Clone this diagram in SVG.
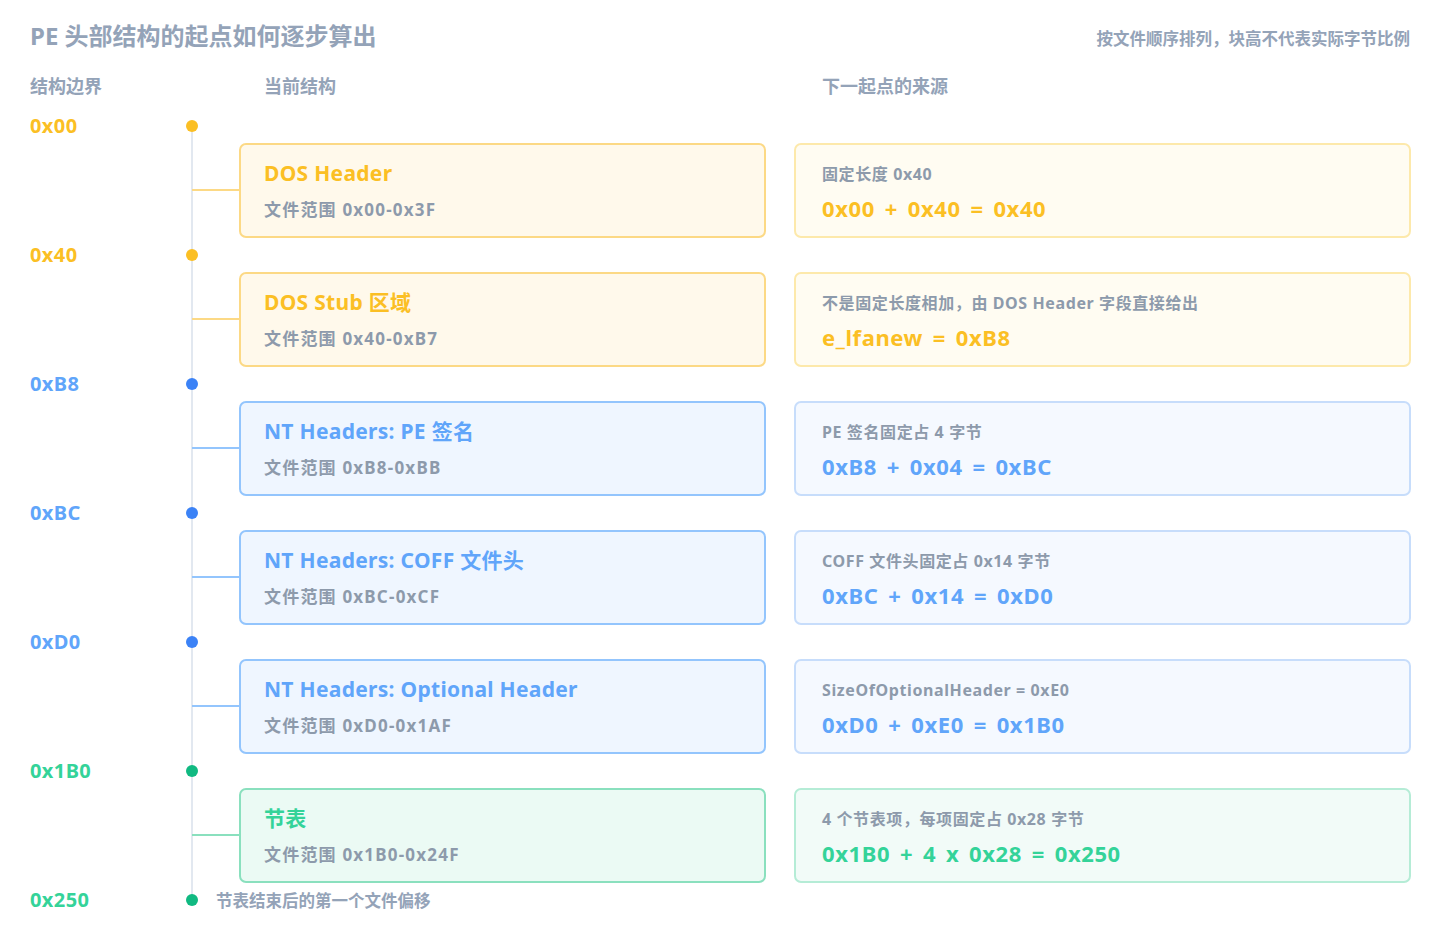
<svg xmlns="http://www.w3.org/2000/svg" width="1440" height="948" viewBox="0 0 1440 948">
<style>
text{font-family:"Noto Sans","Noto Sans CJK SC",sans-serif;font-weight:700}
.muted{fill:#94a3b8}
.title{font-size:24px}
.sub{font-size:16.5px}
.hdr{font-size:18px}
.off{font-size:20px;letter-spacing:0.4px}
.ct{font-size:21px;letter-spacing:0.3px}
.cr{font-size:17px;fill:#8d9aab;letter-spacing:1.2px}
.rs{font-size:16px;fill:#8d9aab;letter-spacing:0.6px}
.rf{font-size:22px;letter-spacing:0.6px;word-spacing:3.5px}
.y{fill:#fbbf24}.b{fill:#60a5fa}.g{fill:#34d399}
.cy{fill:#fff9eb;stroke:#fcd985;stroke-width:2}
.ry{fill:#fffcf2;stroke:#fde9ab;stroke-width:2}
.cb{fill:#eff6ff;stroke:#93c5fd;stroke-width:2}
.rb{fill:#f5f9ff;stroke:#c7ddfb;stroke-width:2}
.cg{fill:#ebfaf4;stroke:#8ae0be;stroke-width:2}
.rg{fill:#f2fbf8;stroke:#b5ecd6;stroke-width:2}
</style>
<rect width="1440" height="948" fill="#ffffff"/>
<text x="30" y="45" class="muted title">PE 头部结构的起点如何逐步算出</text>
<text x="1410" y="45" class="muted sub" text-anchor="end">按文件顺序排列，块高不代表实际字节比例</text>
<text x="30" y="93" class="muted hdr">结构边界</text>
<text x="264" y="93" class="muted hdr">当前结构</text>
<text x="822" y="93" class="muted hdr">下一起点的来源</text>

<g id="connectors">
<line x1="192" y1="126" x2="192" y2="900" stroke="#e2e8f0" stroke-width="2"/>
<line x1="192" y1="190" x2="240" y2="190" stroke="#fcd985" stroke-width="2"/>
<line x1="192" y1="319" x2="240" y2="319" stroke="#fcd985" stroke-width="2"/>
<line x1="192" y1="448" x2="240" y2="448" stroke="#93c5fd" stroke-width="2"/>
<line x1="192" y1="577" x2="240" y2="577" stroke="#93c5fd" stroke-width="2"/>
<line x1="192" y1="706" x2="240" y2="706" stroke="#93c5fd" stroke-width="2"/>
<line x1="192" y1="835" x2="240" y2="835" stroke="#8ae0be" stroke-width="2"/>
</g>

<g id="boundaries">
<g id="b0"><circle cx="192" cy="126" r="6" fill="#fbbf24"/><text x="30" y="133" class="off y">0x00</text></g>
<g id="b1"><circle cx="192" cy="255" r="6" fill="#fbbf24"/><text x="30" y="262" class="off y">0x40</text></g>
<g id="b2"><circle cx="192" cy="384" r="6" fill="#3b82f6"/><text x="30" y="391" class="off b">0xB8</text></g>
<g id="b3"><circle cx="192" cy="513" r="6" fill="#3b82f6"/><text x="30" y="520" class="off b">0xBC</text></g>
<g id="b4"><circle cx="192" cy="642" r="6" fill="#3b82f6"/><text x="30" y="649" class="off b">0xD0</text></g>
<g id="b5"><circle cx="192" cy="771" r="6" fill="#10b981"/><text x="30" y="778" class="off g">0x1B0</text></g>
<g id="b6"><circle cx="192" cy="900" r="6" fill="#10b981"/><text x="30" y="907" class="off g">0x250</text><text x="216" y="907" class="muted sub">节表结束后的第一个文件偏移</text></g>
</g>

<g id="dos-header">
<rect x="240" y="144" width="525" height="93" rx="6" class="cy"/>
<text x="264" y="181" class="ct y">DOS Header</text>
<text x="264" y="216" class="cr">文件范围 0x00-0x3F</text>
</g>
<g id="dos-header-next">
<rect x="795" y="144" width="615" height="93" rx="6" class="ry"/>
<text x="822" y="180" class="rs">固定长度 0x40</text>
<text x="822" y="217" class="rf y">0x00 + 0x40 = 0x40</text>
</g>

<g id="dos-stub">
<rect x="240" y="273" width="525" height="93" rx="6" class="cy"/>
<text x="264" y="310" class="ct y">DOS Stub 区域</text>
<text x="264" y="345" class="cr">文件范围 0x40-0xB7</text>
</g>
<g id="dos-stub-next">
<rect x="795" y="273" width="615" height="93" rx="6" class="ry"/>
<text x="822" y="309" class="rs">不是固定长度相加，由 DOS Header 字段直接给出</text>
<text x="822" y="346" class="rf y">e_lfanew = 0xB8</text>
</g>

<g id="pe-signature">
<rect x="240" y="402" width="525" height="93" rx="6" class="cb"/>
<text x="264" y="439" class="ct b">NT Headers: PE 签名</text>
<text x="264" y="474" class="cr">文件范围 0xB8-0xBB</text>
</g>
<g id="pe-signature-next">
<rect x="795" y="402" width="615" height="93" rx="6" class="rb"/>
<text x="822" y="438" class="rs">PE 签名固定占 4 字节</text>
<text x="822" y="475" class="rf b">0xB8 + 0x04 = 0xBC</text>
</g>

<g id="coff-header">
<rect x="240" y="531" width="525" height="93" rx="6" class="cb"/>
<text x="264" y="568" class="ct b">NT Headers: COFF 文件头</text>
<text x="264" y="603" class="cr">文件范围 0xBC-0xCF</text>
</g>
<g id="coff-header-next">
<rect x="795" y="531" width="615" height="93" rx="6" class="rb"/>
<text x="822" y="567" class="rs">COFF 文件头固定占 0x14 字节</text>
<text x="822" y="604" class="rf b">0xBC + 0x14 = 0xD0</text>
</g>

<g id="optional-header">
<rect x="240" y="660" width="525" height="93" rx="6" class="cb"/>
<text x="264" y="697" class="ct b">NT Headers: Optional Header</text>
<text x="264" y="732" class="cr">文件范围 0xD0-0x1AF</text>
</g>
<g id="optional-header-next">
<rect x="795" y="660" width="615" height="93" rx="6" class="rb"/>
<text x="822" y="696" class="rs">SizeOfOptionalHeader = 0xE0</text>
<text x="822" y="733" class="rf b">0xD0 + 0xE0 = 0x1B0</text>
</g>

<g id="section-table">
<rect x="240" y="789" width="525" height="93" rx="6" class="cg"/>
<text x="264" y="826" class="ct g">节表</text>
<text x="264" y="861" class="cr">文件范围 0x1B0-0x24F</text>
</g>
<g id="section-table-next">
<rect x="795" y="789" width="615" height="93" rx="6" class="rg"/>
<text x="822" y="825" class="rs">4 个节表项，每项固定占 0x28 字节</text>
<text x="822" y="862" class="rf g">0x1B0 + 4 x 0x28 = 0x250</text>
</g>
</svg>
